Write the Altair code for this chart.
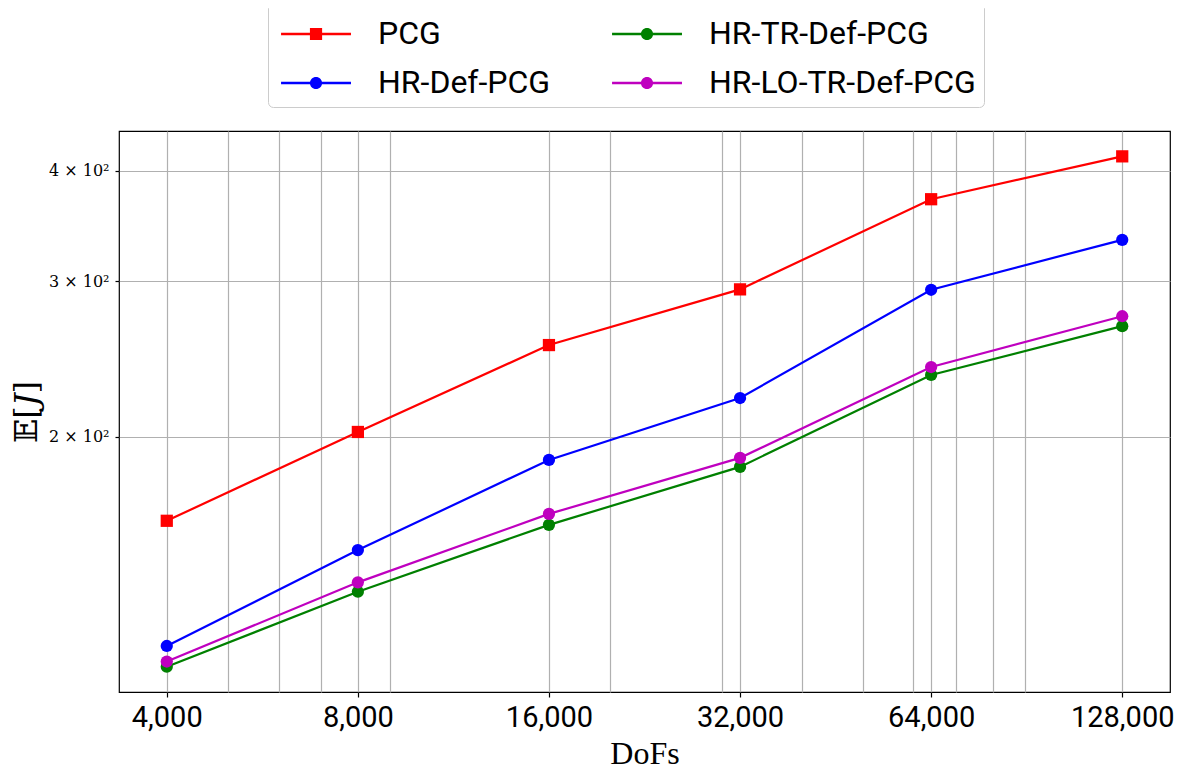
import altair as alt
import pandas as pd

# ---- data ----
dofs = [4000, 8000, 16000, 32000, 64000, 128000]
series_names = ["PCG", "HR-Def-PCG", "HR-TR-Def-PCG", "HR-LO-TR-Def-PCG"]
series_colors = ["#ff0000", "#0000ff", "#008000", "#bf00bf"]
series_markers = ["square", "circle", "circle", "circle"]
pcg = [160.8, 202.6, 254.0, 293.6, 371.2, 415.0]
hr_def_pcg = [116.1, 149.0, 188.4, 221.3, 293.3, 334.0]
hr_tr_def_pcg = [110.0, 133.7, 159.1, 185.0, 235.0, 266.8]
hr_lo_tr_def_pcg = [111.5, 137.0, 163.7, 189.4, 239.9, 273.8]

major_ticks = [4000, 8000, 16000, 32000, 64000, 128000]
minor_ticks = [5000, 6000, 7000, 9000, 20000, 30000, 40000, 50000, 60000,
               70000, 80000, 90000]
y_ticks = [200, 300, 400]

rows = []
for name, vals in zip(series_names, [pcg, hr_def_pcg, hr_tr_def_pcg, hr_lo_tr_def_pcg]):
    for d, v in zip(dofs, vals):
        rows.append({"series": name, "dofs": d, "value": v})
df = pd.DataFrame(rows)

# legend glyphs: line segment + marker, as filled custom paths
sq_path = ("M-0.78,-0.05 L2.26,-0.05 L2.26,0.05 L-0.78,0.05 Z "
           "M0.475,-0.265 L1.005,-0.265 L1.005,0.265 L0.475,0.265 Z")
ci_path = ("M-0.78,-0.05 L2.26,-0.05 L2.26,0.05 L-0.78,0.05 Z "
           "M0.475,0 A0.265,0.265 0 1,1 1.005,0 A0.265,0.265 0 1,1 0.475,0 Z")
legend_shapes = [sq_path if m == "square" else ci_path for m in series_markers]

all_x = sorted(major_ticks + minor_ticks)
major_str = "[" + ",".join(str(v) for v in major_ticks) + "]"

x_enc = alt.X(
    "dofs:Q",
    scale=alt.Scale(type="log", domain=[3363.6, 152219], nice=False),
    axis=alt.Axis(
        values=all_x,
        labelExpr=f"indexof({major_str}, datum.value) >= 0 ? format(datum.value, ',') : ''",
        grid=True, gridColor="#b0b0b0", gridWidth=1.2,
        domain=False,
        ticks=True, tickSize=5, tickColor="black", tickWidth=1.2,
        tickOpacity={"condition": {"test": f"indexof({major_str}, datum.value) < 0", "value": 0}, "value": 1},
        labelFont="Roboto", labelFontSize=29, labelColor="black",
        labelPadding=6, labelOverlap=False, labelFlush=False, labelBound=False,
        title="DoFs", titleFont="Liberation Serif", titleFontSize=32,
        titleFontWeight="normal", titleColor="black", titlePadding=6,
    ),
)
y_enc = alt.Y(
    "value:Q",
    scale=alt.Scale(type="log", domain=[103.0, 443.3], nice=False),
    axis=alt.Axis(
        values=y_ticks,
        labelExpr="(datum.value / 100) + ' × 10²'",
        grid=True, gridColor="#b0b0b0", gridWidth=1.2,
        domain=False,
        tickSize=4, tickColor="black", tickWidth=1.2,
        labelFont="DejaVu Serif", labelFontSize=16, labelColor="black",
        labelPadding=6,
        title="𝔼[𝐽]", titleFont="DejaVu Serif", titleFontSize=32,
        titleFontWeight="normal", titleColor="black", titlePadding=5,
    ),
)

base = alt.Chart(df)

layers = []
for name, col, mk in zip(series_names, series_colors, series_markers):
    sub = base.transform_filter(alt.datum.series == name)
    layers.append(sub.mark_line(strokeWidth=2.2, color=col).encode(x=x_enc, y=y_enc))
    layers.append(sub.mark_point(shape=mk, filled=True, size=150, opacity=1, color=col)
                  .encode(x=x_enc, y=y_enc))

legend_def = alt.Legend(
    title=None, orient="none", legendX=149, legendY=-128,
    columns=2, padding=8, rowPadding=10, columnPadding=56,
    labelFont="Roboto", labelFontSize=32, labelColor="black", labelLimit=500,
    labelOffset=56, symbolSize=2116, symbolStrokeWidth=0, symbolOpacity=1,
    strokeColor="#cccccc", fillColor="white", cornerRadius=5,
)

legend_layer = base.transform_filter("datum.dofs < 0").mark_point(filled=True).encode(
    x=x_enc, y=y_enc,
    color=alt.Color("series:N", scale=alt.Scale(domain=series_names, range=series_colors),
                    legend=legend_def),
    shape=alt.Shape("series:N", scale=alt.Scale(domain=series_names, range=legend_shapes),
                    legend=legend_def),
)
layers.append(legend_layer)

chart = alt.layer(*layers).properties(
    width=1051, height=561,
    autosize=alt.AutoSizeParams(type="none"),
    padding={"left": 111, "top": 123, "right": 8, "bottom": 80},
    background="white",
).configure_view(stroke="black", strokeWidth=1.2)

chart.save("out.html", embed_options={"renderer": "svg", "actions": False})
